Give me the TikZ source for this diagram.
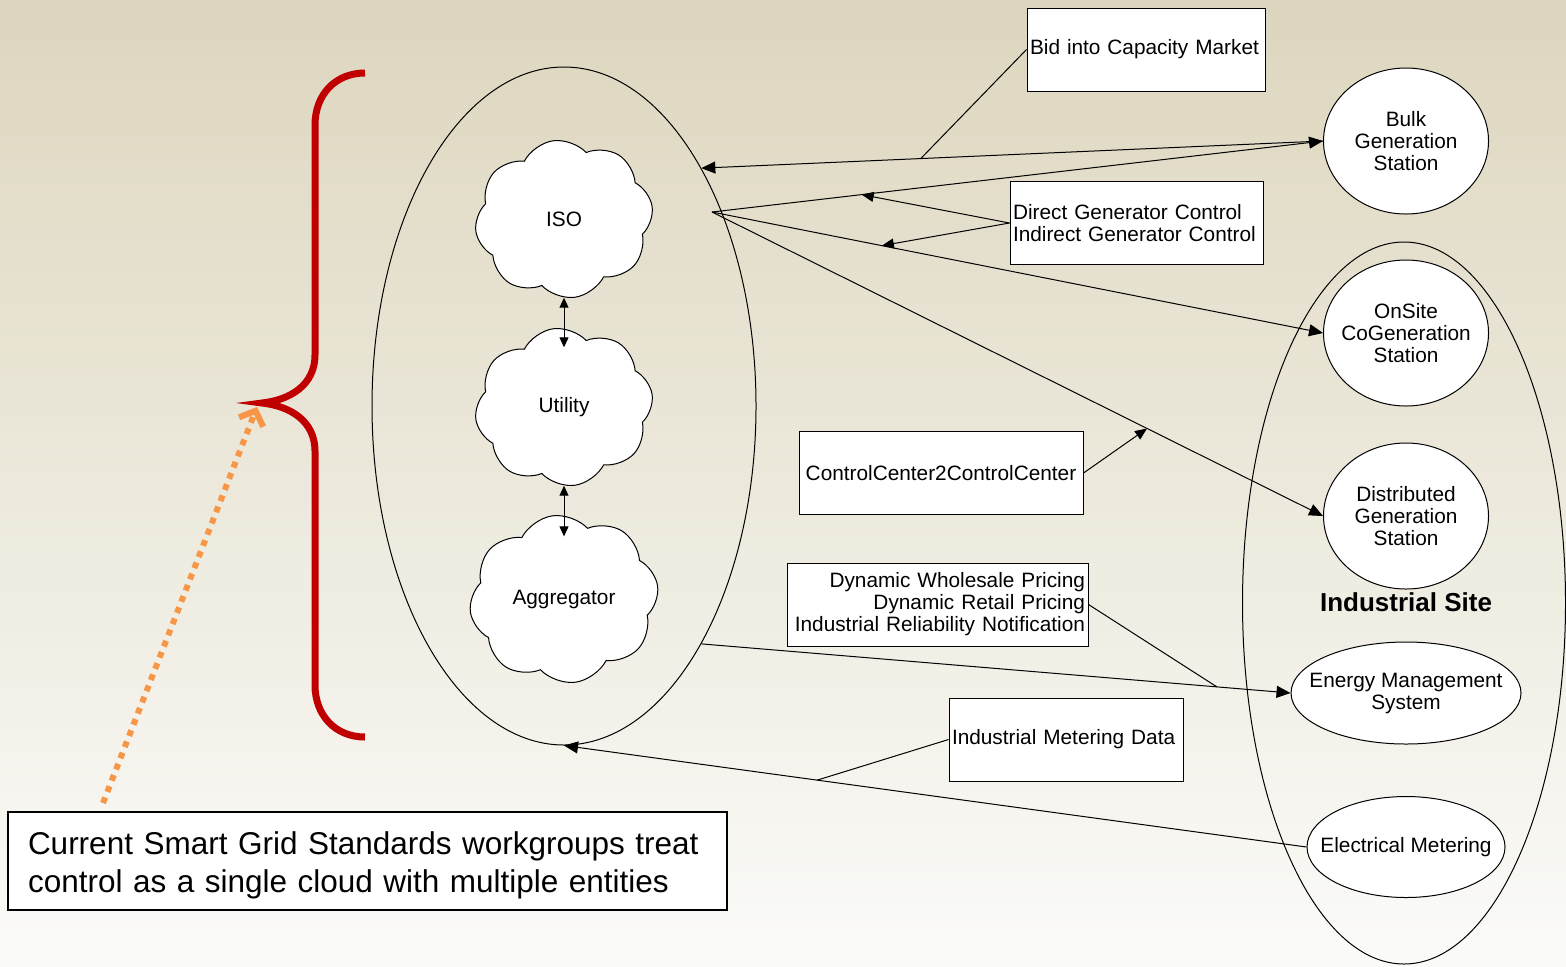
\documentclass[tikz,border=0pt]{standalone}
\usepackage{fontspec}
\setmainfont{Liberation Sans}
\usetikzlibrary{shapes.geometric,shapes.symbols,arrows.meta,calc}
\definecolor{bgtop}{RGB}{221,214,190}
\definecolor{bgbot}{RGB}{251,251,249}
\definecolor{bracered}{RGB}{192,0,0}
\definecolor{orangeptr}{RGB}{247,150,70}
\begin{document}
\begin{tikzpicture}[x=0.5pt,y=-0.5pt,
  txt/.style={font=\fontsize{10.4}{11}\selectfont},
  station/.style={ellipse, draw, fill=white, inner xsep=-40pt, inner ysep=-20pt, align=center, txt, line width=0.5pt},
  infobox/.style={draw, fill=white, rectangle, inner sep=1.5pt, txt, minimum height=41.5pt, line width=0.5pt},
  puff/.style={cloud, cloud puffs=8, cloud puff arc=110, draw, fill=white, inner sep=0pt, txt, line width=0.5pt},
  link/.style={line width=0.5pt},
  tip/.style={link, -{Triangle[length=7pt,width=6pt]}},
  smalltip/.style={link, -{Triangle[length=6pt,width=5pt]}},
  dbltip/.style={link, {Triangle[length=5pt,width=4.5pt]}-{Triangle[length=5pt,width=4.5pt]}}
]
\useasboundingbox (0,0) rectangle (1566,966);
\shade[top color=bgtop, bottom color=bgbot] (0,0) rectangle (1566,966);

% big ellipses
\node[ellipse, draw, line width=0.5pt, minimum width=192pt, minimum height=339pt, inner sep=0pt] (ctrl) at (564,406) {};
\node[ellipse, draw, line width=0.5pt, minimum width=161.5pt, minimum height=361pt, inner sep=0pt] (site) at (1404,603) {};

% clouds
\node[puff, minimum width=89pt, minimum height=79pt, rotate=8] (iso) at (564,219) {\rotatebox{-8}{ISO}};
\node[puff, minimum width=89pt, minimum height=79pt, rotate=8] (util) at (564,407) {\rotatebox{-8}{Utility}};
\node[puff, minimum width=94.5pt, minimum height=84pt, rotate=8] (agg) at (564,599) {\rotatebox{-8}{Aggregator}};

% stations
\node[station, minimum width=82.5pt, minimum height=73pt] (bulk) at (1406,141) {Bulk\\Generation\\Station};
\node[station, minimum width=82.5pt, minimum height=73pt] (onsite) at (1406,333) {OnSite\\CoGeneration\\Station};
\node[station, minimum width=82.5pt, minimum height=73pt] (dist) at (1406,516) {Distributed\\Generation\\Station};
\node[station, minimum width=115pt, minimum height=51pt] (ems) at (1406,693) {Energy Management\\System};
\node[station, minimum width=99pt, minimum height=50.5pt] (meter) at (1406,847) {Electrical Metering};
\node[font=\bfseries\fontsize{13}{15}\selectfont] (sitelabel) at (1406,602) {Industrial Site};

% info boxes
\node[infobox, text width=116pt, align=left] (bid) at (1146,49.5) {Bid into Capacity Market};
\node[infobox, text width=123.5pt, align=left] (direct) at (1136.5,223) {Direct Generator Control\\Indirect Generator Control};
\node[infobox, text width=139pt, align=center] (cc) at (941,473) {ControlCenter2ControlCenter};
\node[infobox, text width=147.5pt, align=right] (pricing) at (937.5,604.5) {Dynamic Wholesale Pricing\\Dynamic Retail Pricing\\Industrial Reliability Notification};
\node[infobox, text width=114pt, align=left] (metering) at (1066,739.5) {Industrial Metering Data};

% note box
\node[draw, fill=white, line width=0.8pt, rectangle, inner xsep=10pt, inner ysep=0pt, text width=339.5pt, text height=15.5pt, minimum height=49pt, align=left, font=\fontsize{15.75}{19}\selectfont] (note) at (367.5,861) {Current Smart Grid Standards workgroups treat\\control as a single cloud with multiple entities};

% cloud links
\draw[dbltip, shorten >=-9.5pt] (iso.center |- iso.south) -- (util.center |- util.north);
\draw[dbltip, shorten >=-10.5pt] (util.center |- util.south) -- (agg.center |- agg.north);

% main flows
\coordinate (isoout) at (712,212);
\draw[tip] (bulk.west) -- (ctrl.60.4);
\draw[tip] (isoout) -- (bulk.west);
\draw[tip] (isoout) -- (onsite.west);
\draw[tip] (isoout) -- (dist.west);
\draw[tip] (ctrl.-60.5) -- (ems.west);
\draw[tip] (meter.west) -- (ctrl.south);

% points on flows
\path (bulk.west) -- (ctrl.60.4) coordinate[pos=0.647] (bidpt);
\path (isoout) -- (bulk.west) coordinate[pos=0.245] (dirpt);
\path (isoout) -- (onsite.west) coordinate[pos=0.278] (indpt);
\path (isoout) -- (dist.west) coordinate[pos=0.712] (ccpt);
\path (ctrl.-60.5) -- (ems.west) coordinate[pos=0.875] (pricept);
\path (meter.west) -- (ctrl.south) coordinate[pos=0.659] (meterpt);

% annotation links
\draw[link] (bid.west) -- (bidpt);
\draw[smalltip] (direct.west) -- (dirpt);
\draw[smalltip] (direct.west) -- (indpt);
\draw[smalltip] (cc.east) -- (ccpt);
\draw[link] (pricing.east) -- (pricept);
\draw[link] (metering.west) -- (meterpt);

% red brace
\coordinate (bracetip) at (262,403);
\draw[bracered, line width=3.5pt] (365,73) .. controls (335,73) and (315,95) .. (315,125) -- (315,355) .. controls (315,385) and (290,400) .. (bracetip) .. controls (290,406) and (315,421) .. (315,451) -- (315,685) .. controls (315,715) and (335,737) .. (365,737);

% orange pointer
\coordinate (notept) at (103,803);
\coordinate (ptrtip) at (257,407);
\draw[orangeptr, line width=3pt, dash pattern=on 3pt off 3pt, -{Straight Barb[length=6pt,width=13pt]}] (notept) -- (ptrtip);
\end{tikzpicture}
\end{document}
